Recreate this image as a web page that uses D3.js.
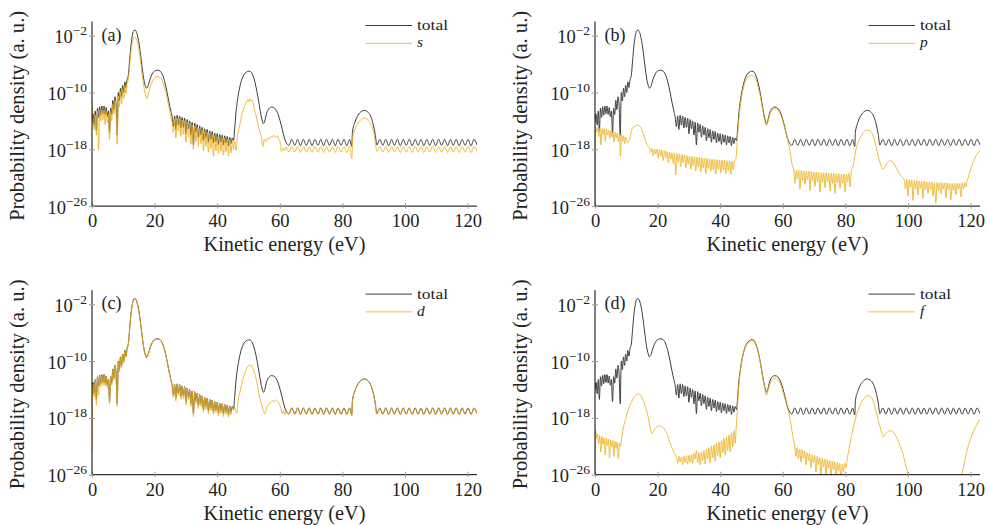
<!DOCTYPE html>
<html><head><meta charset="utf-8">
<script src="https://cdn.jsdelivr.net/npm/d3@7"></script>
<style>body{margin:0;background:#fff}svg{display:block}</style>
</head><body>
<svg id="chart" width="988" height="525"></svg>
<script>
// ---------- data (energy in eV, value = log10 of probability density) ----------
const energyTicks = [0, 20, 40, 60, 80, 100, 120];
const exponentTicks = [-2, -10, -18, -26];
const panelLabels = ["(a)", "(b)", "(c)", "(d)"];
const componentNames = ["s", "p", "d", "f"];

const totalSeries = [
[0,-14.2],[0.35,-13.0],[0.7,-14.6],[1.05,-12.6],[1.4,-15.4],[1.75,-12.2],[2.1,-13.5],[2.45,-12.0],[2.8,-13.2],[3.15,-11.9],[3.5,-13.0],[3.85,-11.9],[4.2,-13.1],[4.55,-12.1],[4.9,-13.4],[5.25,-12.6],[5.6,-15.7],[5.95,-12.2],[6.3,-13.1],[6.65,-11.1],[7.0,-12.4],[7.35,-10.6],[7.7,-11.8],[8.05,-16.0],[8.4,-10.0],[8.75,-11.2],[9.1,-9.4],[9.45,-10.6],[9.8,-9.0],[10.15,-10.0],[10.5,-8.5],[10.85,-9.3],[11.2,-8.2],
[11.6,-7.6],[12.0,-5.6],[12.4,-3.6],[12.8,-2.2],[13.2,-1.4],[13.6,-1.2],[14.0,-1.3],[14.5,-1.9],[15.0,-3.0],[15.5,-4.6],[16.0,-6.4],[16.5,-8.0],[17.0,-9.0],[17.4,-9.4],[17.8,-9.2],[18.3,-8.5],[18.9,-7.7],[19.6,-7.15],[20.3,-6.9],[21.0,-6.85],[21.8,-7.0],[22.6,-7.6],[23.3,-8.6],[24.0,-10.0],[24.6,-11.4],[25.2,-12.6],[25.6,-13.4],
[26.0,-14.8],[26.4,-13.3],[26.8,-15.2],[27.2,-13.2],[27.6,-14.6],[28.0,-13.3],[28.4,-15.0],[28.8,-13.5],[29.2,-14.9],[29.6,-13.6],[30.0,-15.8],[30.4,-13.8],[30.8,-15.1],[31.2,-14.0],[31.6,-16.0],[32.0,-14.2],[32.4,-17.4],[32.8,-14.3],[33.2,-15.6],[33.6,-14.5],[34.0,-16.3],[34.4,-14.7],[34.8,-16.0],[35.2,-14.9],[35.6,-16.8],[36.0,-15.1],[36.4,-16.4],[36.8,-15.2],[37.2,-17.0],[37.6,-15.4],[38.0,-16.6],[38.4,-15.5],[38.8,-17.1],[39.2,-15.7],[39.6,-16.9],[40.0,-15.8],[40.4,-17.3],[40.8,-15.9],[41.2,-17.0],[41.6,-16.0],[42.0,-17.4],[42.4,-16.1],[42.8,-17.1],[43.2,-16.2],[43.6,-17.5],[44.0,-16.3],[44.4,-17.2],[44.8,-16.4],[45.2,-16.8],
[45.6,-15.0],[46.0,-12.8],[46.5,-11.0],[47.0,-9.7],[47.5,-8.7],[48.0,-8.0],[48.6,-7.45],[49.3,-7.15],[50.0,-7.0],[50.6,-7.05],[51.2,-7.4],[51.8,-8.1],[52.4,-9.2],[53.0,-10.6],[53.6,-12.2],[54.2,-13.6],[54.8,-14.4],[55.2,-14.0],[55.8,-12.9],[56.5,-12.3],[57.3,-12.05],[58.0,-12.1],[58.7,-12.4],[59.4,-13.0],[60.1,-14.0],[60.8,-15.2],[61.4,-16.3],[62.0,-17.0],
[62.9,-17.45],[63.8,-16.6],[64.8,-17.45],[65.7,-16.6],[66.6,-17.5],[67.5,-16.6],[68.5,-17.45],[69.4,-16.6],[70.3,-17.5],[71.2,-16.6],[72.2,-17.45],[73.1,-16.6],[74.0,-17.5],[74.9,-16.6],[75.9,-17.45],[76.8,-16.6],[77.7,-17.5],[78.6,-16.6],[79.6,-17.45],[80.5,-16.6],[81.4,-17.5],[82.3,-16.6],[83.0,-17.6],
[83.2,-15.6],[84.0,-14.2],[85.0,-13.2],[86.0,-12.7],[87.0,-12.5],[88.0,-12.7],[89.0,-13.3],[89.8,-14.4],[90.5,-15.9],[91.0,-17.4],
[91.95,-16.6],[92.9,-17.45],[93.85,-16.6],[94.8,-17.5],[95.7,-16.6],[96.6,-17.45],[97.55,-16.6],[98.5,-17.5],[99.45,-16.6],[100.4,-17.45],[101.35,-16.6],[102.3,-17.5],[103.25,-16.6],[104.2,-17.45],[105.1,-16.6],[106.0,-17.5],[106.95,-16.6],[107.9,-17.45],[108.85,-16.6],[109.8,-17.5],[110.75,-16.6],[111.7,-17.45],[112.65,-16.6],[113.6,-17.5],[114.5,-16.6],[115.4,-17.45],[116.35,-16.6],[117.3,-17.5],[118.25,-16.6],[119.2,-17.45],[120.15,-16.6],[121.1,-17.5],[122.05,-16.6],[123.0,-17.4]
];

const sSeries = [
[0,-11.3],[0.35,-14.4],[0.7,-15.2],[1.05,-13.2],[1.4,-16.0],[1.75,-12.7],[2.1,-18.1],[2.45,-12.5],[2.8,-14.0],[3.15,-12.4],[3.5,-13.8],[3.85,-12.4],[4.2,-14.5],[4.55,-12.6],[4.9,-14.2],[5.25,-13.1],[5.6,-16.6],[5.95,-12.7],[6.3,-14.0],[6.65,-11.6],[7.0,-13.0],[7.35,-11.1],[7.7,-12.6],[8.05,-17.3],[8.4,-10.5],[8.75,-12.0],[9.1,-9.9],[9.45,-11.6],[9.8,-9.5],[10.15,-10.9],[10.5,-9.0],[10.85,-10.2],[11.2,-8.7],
[11.6,-8.2],[12.0,-6.4],[12.4,-4.5],[12.8,-3.2],[13.2,-2.4],[13.6,-2.2],[14.0,-2.3],[14.5,-2.9],[15.0,-4.0],[15.5,-5.6],[16.0,-7.4],[16.5,-9.0],[17.0,-10.2],[17.5,-10.9],[17.9,-10.3],[18.4,-9.5],[19.0,-8.7],[19.7,-8.1],[20.4,-7.8],[21.1,-7.75],[21.8,-7.9],[22.6,-8.5],[23.3,-9.5],[24.0,-10.8],[24.6,-12.1],[25.2,-13.4],[25.6,-14.2],
[26.0,-15.6],[26.4,-13.7],[26.8,-16.4],[27.2,-13.6],[27.6,-15.4],[28.0,-13.7],[28.4,-16.2],[28.8,-13.9],[29.2,-15.9],[29.6,-14.0],[30.0,-17.0],[30.4,-14.2],[30.8,-16.3],[31.2,-14.4],[31.6,-17.3],[32.0,-14.6],[32.4,-18.0],[32.8,-14.7],[33.2,-16.9],[33.6,-14.9],[34.0,-17.6],[34.4,-15.1],[34.8,-17.2],[35.2,-15.3],[35.6,-18.2],[36.0,-15.5],[36.4,-17.6],[36.8,-15.6],[37.2,-18.4],[37.6,-15.8],[38.0,-17.9],[38.4,-15.9],[38.8,-19.0],[39.2,-16.1],[39.6,-18.2],[40.0,-16.2],[40.4,-18.6],[40.8,-16.3],[41.2,-18.3],[41.6,-16.4],[42.0,-18.8],[42.4,-16.5],[42.8,-18.4],[43.2,-16.6],[43.6,-18.9],[44.0,-16.7],[44.4,-18.5],[44.8,-16.8],[45.2,-18.0],[45.6,-16.9],[46.0,-18.2],
[46.5,-16.0],[47.0,-15.0],[47.5,-13.9],[48.0,-12.9],[48.5,-12.2],[49.0,-11.6],[49.4,-11.3],[49.8,-11.0],[50.1,-11.3],[50.4,-10.9],[50.8,-11.2],[51.2,-11.1],[51.6,-11.8],[52.0,-12.5],[52.6,-13.6],[53.1,-14.6],[53.6,-15.5],[54.1,-16.2],[54.6,-17.6],[55.1,-16.6],[55.6,-16.9],[56.1,-16.4],[56.6,-16.6],[57.1,-16.2],[57.6,-16.3],[58.1,-16.0],[58.6,-16.3],[59.1,-16.1],[59.7,-16.6],[60.2,-17.2],[60.5,-18.3],[61.0,-17.8],[61.5,-18.2],[62.0,-17.7],
[62.9,-18.4],[63.8,-17.6],[64.8,-18.4],[65.7,-17.6],[66.6,-18.45],[67.5,-17.6],[68.5,-18.4],[69.4,-17.6],[70.3,-18.45],[71.2,-17.6],[72.2,-18.4],[73.1,-17.6],[74.0,-18.45],[74.9,-17.6],[75.9,-18.4],[76.8,-17.6],[77.7,-18.45],[78.6,-17.6],[79.6,-18.4],[80.5,-17.6],[81.4,-18.45],[82.3,-17.6],[83.0,-19.3],
[83.3,-16.4],[84.0,-15.2],[85.0,-14.3],[86.0,-13.8],[87.0,-13.6],[88.0,-13.8],[89.0,-14.4],[89.8,-15.4],[90.5,-16.9],[91.0,-18.3],
[91.95,-17.6],[92.9,-18.4],[93.85,-17.6],[94.8,-18.45],[95.7,-17.6],[96.6,-18.4],[97.55,-17.6],[98.5,-18.45],[99.45,-17.6],[100.4,-18.4],[101.35,-17.6],[102.3,-18.45],[103.25,-17.6],[104.2,-18.4],[105.1,-17.6],[106.0,-18.45],[106.95,-17.6],[107.9,-18.4],[108.85,-17.6],[109.8,-18.45],[110.75,-17.6],[111.7,-18.4],[112.65,-17.6],[113.6,-18.45],[114.5,-17.6],[115.4,-18.4],[116.35,-17.6],[117.3,-18.45],[118.25,-17.6],[119.2,-18.4],[120.15,-17.6],[121.1,-18.45],[122.05,-17.6],[123.0,-18.3]
];

const pSeries = [
[0,-26],[0.15,-14.8],[0.5,-15.6],[0.85,-14.9],[1.2,-16.2],[1.55,-15.0],[1.9,-17.4],[2.25,-15.1],[2.6,-15.9],[2.95,-15.1],[3.3,-16.9],[3.65,-15.2],[4.0,-16.0],[4.35,-15.3],[4.7,-16.5],[5.05,-15.4],[5.4,-16.3],[5.75,-15.5],[6.1,-17.0],[6.45,-15.6],[6.8,-16.4],[7.15,-15.7],[7.5,-16.9],[7.85,-15.8],[8.1,-19.0],[8.45,-15.9],[8.8,-16.9],[9.15,-16.1],[9.5,-17.2],[9.85,-16.3],[10.2,-16.9],[10.6,-17.1],[11.0,-16.6],[11.5,-15.6],[12.0,-15.0],[12.5,-14.8],[13.0,-14.7],[13.5,-14.6],[14.0,-14.7],[14.5,-14.9],[15.0,-15.3],[15.5,-15.9],[16.0,-16.6],[16.5,-17.3],[17.0,-17.6],[17.4,-17.8],
[17.8,-18.4],[18.2,-17.9],[18.6,-18.9],[19.0,-17.95],[19.4,-18.7],[19.8,-18.0],[20.2,-19.3],[20.6,-18.05],[21.0,-19.0],[21.4,-18.1],[21.8,-19.6],[22.2,-18.2],[22.6,-19.2],[23.0,-18.3],[23.4,-19.9],[23.8,-18.4],[24.2,-19.4],[24.6,-18.5],[25.0,-20.0],[25.4,-18.55],[25.8,-21.6],[26.2,-18.6],[26.6,-19.8],[27.0,-18.7],[27.4,-20.4],[27.8,-18.75],[28.2,-19.9],[28.6,-18.8],[29.0,-20.6],[29.4,-18.9],[29.8,-20.1],[30.2,-18.95],[30.6,-20.8],[31.0,-19.0],[31.4,-20.3],[31.8,-19.05],[32.2,-21.0],[32.6,-19.1],[33.0,-20.5],[33.4,-19.15],[33.8,-21.2],[34.2,-19.2],[34.6,-20.6],[35.0,-19.25],[35.4,-21.4],[35.8,-19.3],[36.2,-20.7],[36.6,-19.35],[37.0,-21.1],[37.4,-19.4],[37.8,-20.9],[38.2,-19.4],[38.6,-21.5],[39.0,-19.45],[39.4,-20.8],[39.8,-19.5],[40.2,-21.3],[40.6,-19.5],[41.0,-20.9],[41.4,-19.55],[41.8,-21.4],[42.2,-19.6],[42.6,-21.0],[43.0,-19.6],[43.4,-21.5],[43.8,-19.65],[44.2,-20.9],[44.6,-19.6],[45.0,-19.4],
[45.5,-16.5],[46.0,-13.6],[46.5,-11.6],[47.0,-10.2],[47.5,-9.2],[48.0,-8.5],[48.6,-7.95],[49.3,-7.7],[50.0,-7.6],[50.6,-7.65],[51.2,-8.0],[51.8,-8.7],[52.4,-9.7],[53.0,-11.0],[53.6,-12.5],[54.2,-13.9],[54.8,-14.7],[55.2,-14.2],[55.8,-13.1],[56.5,-12.5],[57.3,-12.3],[58.0,-12.35],[58.7,-12.6],[59.4,-13.2],[60.1,-14.2],[60.8,-15.3],[61.4,-16.4],[62.0,-17.5],[62.5,-18.8],[63.0,-20.2],[63.5,-20.9],
[63.9,-22.8],[64.3,-20.95],[64.7,-22.2],[65.1,-21.0],[65.5,-23.6],[65.9,-21.0],[66.3,-22.4],[66.7,-21.05],[67.1,-22.9],[67.5,-21.1],[67.9,-22.3],[68.3,-21.1],[68.7,-23.8],[69.1,-21.15],[69.5,-22.5],[69.9,-21.2],[70.3,-23.2],[70.7,-21.2],[71.1,-22.6],[71.5,-21.25],[71.9,-24.0],[72.3,-21.3],[72.7,-22.7],[73.1,-21.3],[73.5,-23.4],[73.9,-21.35],[74.3,-22.6],[74.7,-21.35],[75.1,-23.9],[75.5,-21.4],[75.9,-22.8],[76.3,-21.4],[76.7,-24.2],[77.1,-21.45],[77.5,-22.7],[77.9,-21.45],[78.3,-23.5],[78.7,-21.5],[79.1,-22.8],[79.5,-21.5],[79.9,-24.0],[80.3,-21.5],[80.7,-22.6],[81.1,-21.4],[81.5,-23.3],[81.9,-21.0],
[82.4,-20.4],[82.8,-19.5],[83.4,-18.0],[84.2,-16.9],[85.0,-16.1],[85.8,-15.6],[86.5,-15.35],[87.1,-15.3],[87.8,-15.4],[88.5,-15.7],[89.0,-16.3],[89.5,-17.1],[90.0,-18.0],[90.6,-19.1],[91.2,-20.1],[92.0,-20.8],[92.7,-20.4],[93.4,-19.9],[94.3,-19.6],[95.1,-19.8],[95.9,-20.3],[96.7,-21.0],[97.5,-21.6],[98.3,-22.0],[98.8,-22.3],
[99.2,-23.6],[99.6,-22.2],[100.0,-24.6],[100.4,-22.3],[100.8,-23.4],[101.2,-22.3],[101.6,-25.2],[102.0,-22.4],[102.4,-23.6],[102.8,-22.4],[103.2,-24.4],[103.6,-22.5],[104.0,-23.5],[104.4,-22.5],[104.8,-24.9],[105.2,-22.5],[105.6,-23.7],[106.0,-22.6],[106.4,-24.2],[106.8,-22.6],[107.2,-23.6],[107.6,-22.6],[108.0,-24.6],[108.4,-22.7],[108.9,-25.6],[109.3,-22.7],[109.7,-23.8],[110.1,-22.7],[110.5,-24.3],[110.9,-22.7],[111.3,-23.6],[111.7,-22.75],[112.1,-24.8],[112.5,-22.75],[112.9,-23.7],[113.3,-22.8],[113.7,-25.1],[114.1,-22.8],[114.5,-23.8],[114.9,-22.8],[115.3,-24.4],[115.7,-22.8],[116.1,-23.6],[116.5,-22.8],[116.9,-24.7],[117.3,-22.8],[117.7,-23.6],[118.1,-22.7],[118.5,-23.3],[118.8,-22.6],
[119.3,-21.9],[119.8,-21.1],[120.5,-20.2],[121.3,-19.3],[122.2,-18.6],[123.0,-18.2]
];

const dSeries = [
[0,-22.6],[0.12,-14.6],[0.35,-13.2],[0.7,-15.0],[1.05,-12.7],[1.4,-16.2],[1.75,-12.3],[2.1,-14.8],[2.45,-12.1],[2.8,-13.6],[3.15,-12.0],[3.5,-13.4],[3.85,-12.0],[4.2,-13.5],[4.55,-12.2],[4.9,-13.8],[5.25,-12.7],[5.6,-16.0],[5.95,-12.3],[6.3,-13.4],[6.65,-11.2],[7.0,-12.7],[7.35,-10.7],[7.7,-12.1],[8.05,-16.4],[8.4,-10.1],[8.75,-11.5],[9.1,-9.5],[9.45,-10.9],[9.8,-9.1],[10.15,-10.3],[10.5,-8.6],[10.85,-9.5],[11.2,-8.3],
[11.6,-7.65],[12.0,-5.65],[12.4,-3.65],[12.8,-2.25],[13.2,-1.45],[13.6,-1.25],[14.0,-1.35],[14.5,-1.95],[15.0,-3.05],[15.5,-4.65],[16.0,-6.45],[16.5,-8.1],[17.0,-9.15],[17.4,-9.6],[17.8,-9.3],[18.3,-8.6],[18.9,-7.75],[19.6,-7.2],[20.3,-6.95],[21.0,-6.9],[21.8,-7.05],[22.6,-7.65],[23.3,-8.65],[24.0,-10.05],[24.6,-11.45],[25.2,-12.7],[25.6,-13.5],
[26.0,-15.1],[26.4,-13.35],[26.8,-15.6],[27.2,-13.25],[27.6,-14.9],[28.0,-13.35],[28.4,-15.4],[28.8,-13.55],[29.2,-15.3],[29.6,-13.65],[30.0,-16.2],[30.4,-13.85],[30.8,-15.5],[31.2,-14.05],[31.6,-16.4],[32.0,-14.25],[32.4,-17.8],[32.8,-14.35],[33.2,-16.0],[33.6,-14.55],[34.0,-16.7],[34.4,-14.75],[34.8,-16.4],[35.2,-14.95],[35.6,-17.2],[36.0,-15.15],[36.4,-16.8],[36.8,-15.25],[37.2,-17.4],[37.6,-15.45],[38.0,-17.0],[38.4,-15.55],[38.8,-17.5],[39.2,-15.75],[39.6,-17.3],[40.0,-15.85],[40.4,-17.7],[40.8,-15.95],[41.2,-17.4],[41.6,-16.05],[42.0,-17.8],[42.4,-16.15],[42.8,-17.5],[43.2,-16.25],[43.6,-17.9],[44.0,-16.35],[44.4,-17.6],[44.8,-16.5],[45.1,-16.7],
[45.6,-16.6],[46.2,-17.3],[46.8,-15.3],[47.3,-14.3],[47.8,-13.3],[48.3,-12.45],[48.9,-11.6],[49.4,-11.0],[49.9,-10.7],[50.3,-10.5],[50.7,-10.75],[51.0,-10.6],[51.3,-10.85],[51.8,-11.5],[52.4,-12.45],[52.9,-13.6],[53.4,-14.8],[54.1,-16.0],[54.7,-16.9],[55.2,-17.4],[55.7,-16.7],[56.3,-16.2],[56.9,-15.9],[57.4,-15.7],[57.8,-15.55],[58.3,-15.7],[58.9,-15.45],[59.5,-15.8],[60.0,-16.2],[60.4,-16.7],[60.8,-17.4],[61.3,-17.0],[61.6,-17.6],[62.0,-17.0],
[62.9,-17.5],[63.8,-16.65],[64.8,-17.5],[65.7,-16.65],[66.6,-17.55],[67.5,-16.65],[68.5,-17.5],[69.4,-16.65],[70.3,-17.55],[71.2,-16.65],[72.2,-17.5],[73.1,-16.65],[74.0,-17.55],[74.9,-16.65],[75.9,-17.5],[76.8,-16.65],[77.7,-17.55],[78.6,-16.65],[79.6,-17.5],[80.5,-16.65],[81.4,-17.55],[82.3,-16.65],[83.0,-17.7],
[83.2,-15.7],[84.0,-14.25],[85.0,-13.25],[86.0,-12.75],[87.0,-12.55],[88.0,-12.75],[89.0,-13.35],[89.8,-14.45],[90.5,-16.0],[91.0,-17.5],
[91.95,-16.65],[92.9,-17.5],[93.85,-16.65],[94.8,-17.55],[95.7,-16.65],[96.6,-17.5],[97.55,-16.65],[98.5,-17.55],[99.45,-16.65],[100.4,-17.5],[101.35,-16.65],[102.3,-17.55],[103.25,-16.65],[104.2,-17.5],[105.1,-16.65],[106.0,-17.55],[106.95,-16.65],[107.9,-17.5],[108.85,-16.65],[109.8,-17.55],[110.75,-16.65],[111.7,-17.5],[112.65,-16.65],[113.6,-17.55],[114.5,-16.65],[115.4,-17.5],[116.35,-16.65],[117.3,-17.55],[118.25,-16.65],[119.2,-17.5],[120.15,-16.65],[121.1,-17.55],[122.05,-16.65],[123.0,-17.45]
];

const fSeries = [
[0,-27],[0.1,-19.6],[0.45,-20.9],[0.8,-20.2],[1.15,-21.6],[1.5,-20.5],[1.85,-22.8],[2.2,-20.6],[2.55,-21.7],[2.9,-20.8],[3.25,-23.2],[3.6,-20.9],[3.95,-21.9],[4.3,-21.0],[4.65,-23.6],[5.0,-21.1],[5.35,-22.1],[5.7,-21.2],[6.05,-23.4],[6.4,-21.3],[6.75,-22.3],[7.1,-21.4],[7.45,-23.7],[7.8,-21.6],[8.1,-22.0],
[8.6,-20.6],[9.1,-19.3],[9.8,-18.1],[10.6,-16.9],[11.4,-16.0],[12.2,-15.3],[13.0,-14.8],[13.8,-14.6],[14.6,-14.8],[15.3,-15.4],[16.0,-16.3],[16.8,-17.5],[17.5,-19.0],[18.1,-20.2],[18.8,-19.8],[19.6,-19.3],[20.4,-19.1],[21.2,-19.2],[22.0,-19.5],[22.8,-20.1],[23.6,-21.0],[24.4,-22.0],[25.2,-22.9],[26.0,-23.6],
[26.4,-24.4],[26.8,-23.4],[27.2,-24.2],[27.6,-23.5],[28.0,-24.6],[28.4,-23.4],[28.8,-24.3],[29.2,-23.3],[29.6,-24.5],[30.0,-23.3],[30.4,-24.2],[30.8,-23.2],[31.2,-24.4],[31.6,-23.0],[32.0,-23.8],[32.4,-22.6],[32.8,-24.3],[33.2,-22.9],[33.6,-24.6],[34.0,-22.8],[34.4,-24.0],[34.8,-22.6],[35.2,-24.5],[35.6,-22.4],[36.0,-23.8],[36.4,-22.2],[36.8,-24.4],[37.2,-22.0],[37.6,-23.6],[38.0,-21.8],[38.4,-24.1],[38.8,-21.6],[39.2,-23.3],[39.6,-21.4],[40.0,-23.6],[40.4,-21.2],[40.8,-22.9],[41.2,-20.9],[41.6,-23.2],[42.0,-20.7],[42.4,-22.6],[42.8,-20.4],[43.2,-22.8],[43.6,-20.1],[44.0,-22.1],[44.4,-19.8],[44.8,-21.6],[45.1,-19.5],
[45.5,-16.7],[46.0,-13.2],[46.5,-11.2],[47.0,-9.8],[47.5,-8.8],[48.0,-8.1],[48.6,-7.55],[49.3,-7.25],[50.0,-7.1],[50.6,-7.15],[51.2,-7.5],[51.8,-8.2],[52.4,-9.3],[53.0,-10.7],[53.6,-12.3],[54.2,-13.8],[54.8,-14.8],[55.2,-14.3],[55.8,-13.3],[56.5,-12.7],[57.3,-12.45],[58.0,-12.5],[58.7,-12.8],[59.4,-13.4],[60.1,-14.4],[60.8,-15.5],[61.4,-16.5],[62.0,-17.4],[62.6,-18.9],[63.2,-20.6],[63.8,-22.0],
[64.2,-23.4],[64.6,-22.2],[65.0,-23.8],[65.4,-22.4],[65.8,-24.2],[66.2,-22.5],[66.6,-23.7],[67.0,-22.7],[67.4,-24.6],[67.8,-22.9],[68.2,-24.0],[68.6,-23.0],[69.0,-25.0],[69.4,-23.2],[69.8,-24.3],[70.2,-23.3],[70.6,-25.6],[71.0,-23.4],[71.4,-24.6],[71.8,-23.6],[72.2,-26.4],[72.6,-23.7],[73.0,-24.9],[73.4,-23.8],[73.8,-26.2],[74.2,-23.9],[74.6,-25.1],[75.0,-24.0],[75.4,-26.5],[75.8,-24.1],[76.2,-25.3],[76.6,-24.2],[77.0,-26.6],[77.4,-24.3],[77.8,-25.5],[78.2,-24.4],[78.6,-26.8],[79.0,-24.5],[79.4,-25.6],[79.8,-24.4],[80.2,-25.0],[80.5,-24.0],
[81.0,-22.8],[81.5,-21.5],[82.3,-19.8],[83.1,-18.3],[83.9,-17.1],[84.7,-16.2],[85.5,-15.5],[86.3,-15.1],[87.0,-14.9],[87.6,-14.9],[88.3,-15.1],[88.9,-15.6],[89.5,-16.5],[90.1,-17.6],[90.6,-18.5],[91.1,-19.3],[91.7,-20.2],[92.1,-20.7],[92.7,-20.3],[93.4,-20.0],[94.2,-19.8],[94.9,-19.85],[95.6,-20.2],[96.4,-20.8],[97.2,-21.6],[98.0,-22.5],[98.6,-23.4],[99.1,-24.4],[99.6,-25.3],[100.2,-26.3],[101.0,-27.5],[102.0,-29.0],
[106.0,-31.0],[112.0,-31.5],[116.0,-28.0],[117.2,-26.0],[118.0,-24.3],[118.8,-22.7],[119.8,-21.2],[120.9,-19.9],[122.0,-18.9],[123.0,-18.2]
];

const componentSeries = [sSeries, pSeries, dSeries, fSeries];

// ---------- layout ----------
const svg = d3.select("#chart");
const serif = "Liberation Serif, DejaVu Serif, serif";
const totalColor = "#3c3c3c";
const compColor = "#EDB120";
const panels = [
  {x0: 92, yTop: 21.5},
  {x0: 595, yTop: 21.5},
  {x0: 92, yTop: 290.1},
  {x0: 595, yTop: 290.1}
];
const pxPerEv = 3.13, pxPerDecade = 7.1;

const defs = svg.append("defs");

panels.forEach((pan, i) => {
  const x = d3.scaleLinear().domain([0, 123]).range([pan.x0, pan.x0 + 123 * pxPerEv]);
  const y = d3.scaleLog().domain([1e-26, 1]).range([pan.yTop + 26 * pxPerDecade, pan.yTop]);
  const g = svg.append("g");

  defs.append("clipPath").attr("id", "clip" + i).append("rect")
    .attr("x", x(0)).attr("y", y(1)).attr("width", x(123) - x(0)).attr("height", y(1e-26) - y(1));

  const line = d3.line().x(d => x(d[0])).y(d => y(Math.pow(10, d[1]))).curve(d3.curveMonotoneX);

  const plot = g.append("g").attr("clip-path", `url(#clip${i})`);
  plot.append("path").datum(totalSeries).attr("d", line)
    .attr("fill", "none").attr("stroke", totalColor).attr("stroke-width", 1).attr("stroke-linejoin", "round");
  plot.append("path").datum(componentSeries[i]).attr("d", line)
    .attr("fill", "none").attr("stroke", compColor).attr("stroke-opacity", 0.85).attr("stroke-width", 1).attr("stroke-linejoin", "round");

  // x axis
  const xa = g.append("g").attr("transform", `translate(0,${y(1e-26)})`)
    .call(d3.axisBottom(x).tickValues(energyTicks).tickSize(3).tickPadding(5).tickFormat(d3.format("d")));
  xa.select(".domain").attr("stroke", "#000").attr("stroke-width", 1).attr("d", `M${x(0)},0H${x(123)}`);
  xa.selectAll(".tick line").attr("stroke", "#999").attr("y1", -3).attr("y2", 2.5);
  xa.selectAll(".tick text").attr("font-family", serif).attr("font-size", 18.5).attr("fill", "#222").attr("dy", "0.71em");

  // y axis
  const ya = g.append("g").attr("transform", `translate(${x(0)},0)`)
    .call(d3.axisLeft(y).tickValues(exponentTicks.map(e => Math.pow(10, e))).tickSize(3).tickPadding(5).tickFormat(() => ""));
  ya.select(".domain").attr("stroke", "#000").attr("stroke-width", 1).attr("d", `M0,${y(1)}V${y(1e-26)}`);
  ya.selectAll(".tick line").attr("stroke", "#999").attr("x1", -3).attr("x2", 3);
  ya.selectAll(".tick text").remove();
  exponentTicks.forEach(e => {
    const t = g.append("text").attr("x", x(0) - 5).attr("y", y(Math.pow(10, e)) + 7.5)
      .attr("text-anchor", "end").attr("font-family", serif).attr("fill", "#222");
    t.append("tspan").attr("font-size", 18.5).text("10");
    t.append("tspan").attr("font-size", 13.5).attr("dy", -8).text("\u2212" + Math.abs(e));
  });

  // axis titles
  g.append("text").attr("x", (x(0) + x(123)) / 2).attr("y", y(1e-26) + 45)
    .attr("text-anchor", "middle").attr("font-family", serif).attr("font-size", 20.3).attr("fill", "#222")
    .text("Kinetic energy (eV)");
  g.append("text").attr("transform", `translate(${x(0) - 68},${(y(1) + y(1e-26)) / 2 + 2}) rotate(-90)`)
    .attr("text-anchor", "middle").attr("font-family", serif).attr("font-size", 20.6).attr("fill", "#222")
    .text("Probability density (a. u.)");

  // panel label
  g.append("text").attr("x", x(0) + 9.5).attr("y", y(1e-2) + 5)
    .attr("font-family", serif).attr("font-size", 18).attr("fill", "#222").text(panelLabels[i]);

  // legend
  const lx0 = x(0) + 273.5, lx1 = lx0 + 46.5;
  const ly = [pan.yTop + 4, pan.yTop + 21.8];
  const leg = g.append("g");
  leg.append("line").attr("x1", lx0).attr("x2", lx1).attr("y1", ly[0]).attr("y2", ly[0]).attr("stroke", totalColor).attr("stroke-width", 1);
  leg.append("line").attr("x1", lx0).attr("x2", lx1).attr("y1", ly[1]).attr("y2", ly[1]).attr("stroke", compColor).attr("stroke-opacity", 0.85).attr("stroke-width", 1);
  leg.append("text").attr("x", lx1 + 5).attr("y", ly[0] + 4.5).attr("font-family", serif).attr("font-size", 15.5)
    .attr("textLength", 31).attr("lengthAdjust", "spacingAndGlyphs").attr("fill", "#222").text("total");
  leg.append("text").attr("x", lx1 + 5).attr("y", ly[1] + 4).attr("font-family", serif).attr("font-style", "italic").attr("font-size", 15.5).attr("fill", "#222").text(componentNames[i]);
});
</script>
</body></html>
